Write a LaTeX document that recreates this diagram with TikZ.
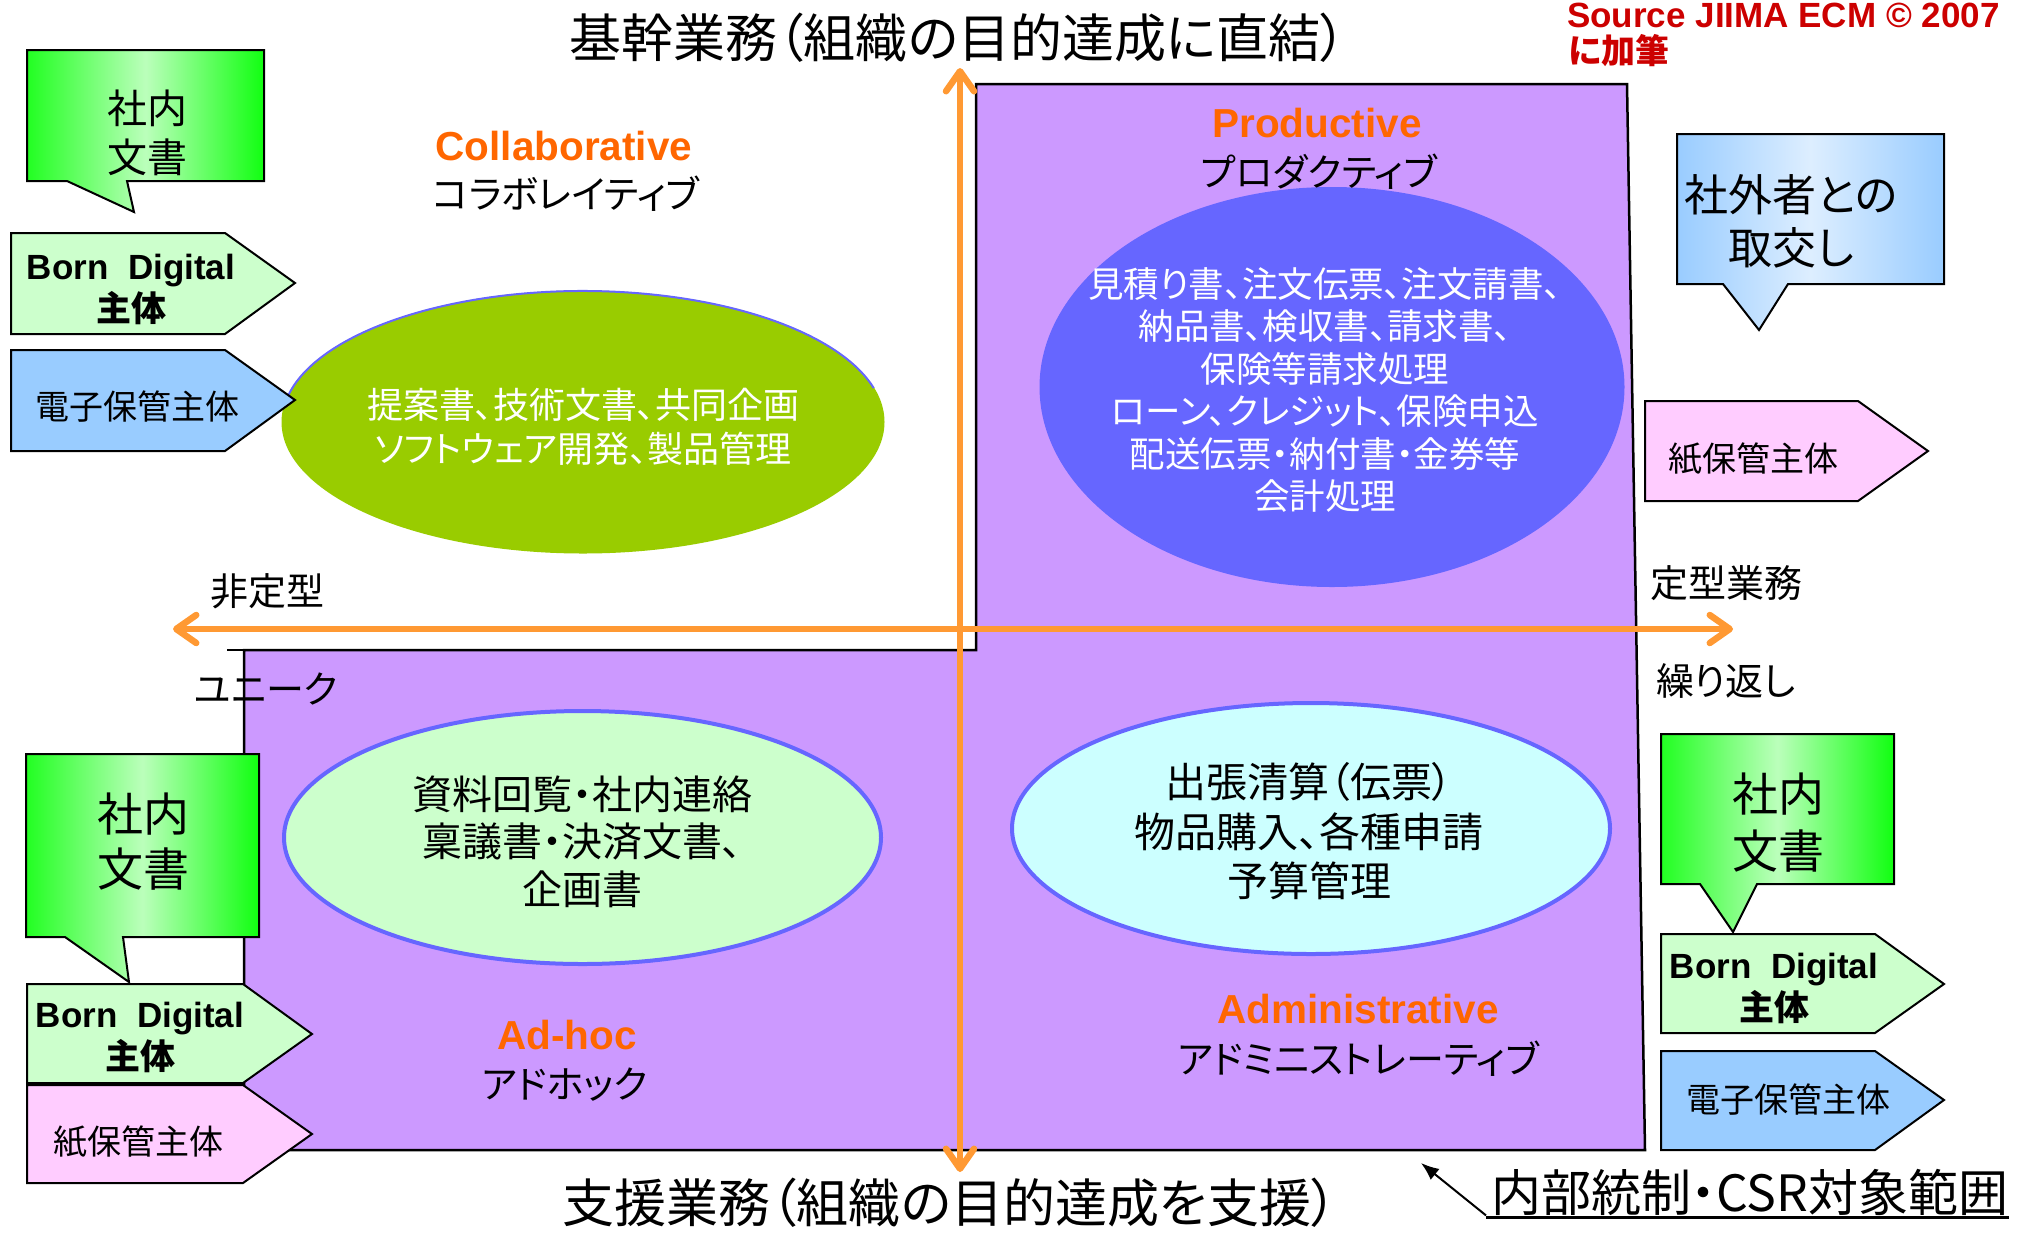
\documentclass[tikz,border=0pt]{standalone}
\usepackage{fontspec}
\setmainfont{Liberation Sans}
\newfontfamily\jp[RawFeature=+palt]{Noto Sans CJK JP}
\usetikzlibrary{arrows.meta,shapes.geometric}
\definecolor{purp}{HTML}{CC99FF}
\definecolor{oran}{HTML}{FF9933}
\definecolor{lab}{HTML}{FF6600}
\definecolor{collab}{HTML}{99CC00}
\definecolor{prod}{HTML}{6666FF}
\definecolor{adhoc}{HTML}{CCFFCC}
\definecolor{admin}{HTML}{CCFFFF}
\definecolor{bdig}{HTML}{CCFFCC}
\definecolor{elec}{HTML}{99CCFF}
\definecolor{paper}{HTML}{FFCCFF}
\definecolor{srcred}{HTML}{CC0000}
\definecolor{cgA}{HTML}{22FF22}
\definecolor{cgB}{HTML}{BBFFBB}
\definecolor{cgC}{HTML}{11FF11}
\definecolor{cbA}{HTML}{99CCFF}
\definecolor{cbB}{HTML}{DDEEFF}
\definecolor{cbC}{HTML}{99CCFF}
\tikzset{
  region/.style={fill=purp, draw=black, line width=2.5pt, line join=miter},
  barb/.tip={Straight Barb[length=20pt,width=28pt,line width=6.5pt,round]},
  axisline/.style={draw=oran, line width=6.5pt},
  jlabel/.style={font=\jp\fontsize{38}{46}\selectfont, inner sep=0},
  olabel/.style={font=\bfseries\fontsize{40.5}{48}\selectfont, text=lab, inner sep=0},
  calloutbox/.style={draw=black, line width=2pt, line join=miter},
  gcallout/.style={calloutbox, left color=cgA, right color=cgC, middle color=cgB},
  bcallout/.style={calloutbox, left color=cbA, right color=cbC, middle color=cbB},
  tagshape/.style={draw=black, line width=2pt, line join=miter},
  tagtext/.style={font=\jp\fontsize{34}{40}\selectfont, inner sep=0},
  bdtext/.style={font=\bfseries\fontsize{35}{42}\selectfont, align=center, inner sep=0},
  elltext/.style={align=center, inner sep=0},
  ellbase/.style={ellipse, inner sep=0, outer sep=0}
}
\begin{document}
\begin{tikzpicture}[x=1pt,y=-1pt]
\useasboundingbox (0,0) rectangle (2044,1240);
\fill[white] (0,0) rectangle (2044,1240);

% purple region
\draw[region] (976,84) -- (1627,84) -- (1645,1150) -- (244,1150) -- (244,650) -- (976,650) -- cycle;
\draw[line width=2.5pt] (227,650) -- (244,650);

% ellipses
\node[ellbase, fill=collab, minimum width=603pt, minimum height=263pt] (collabE) at (583,422) {};
\draw[draw=prod, line width=2pt] (collabE.center) ++(168:301pt and 131pt) arc[start angle=168, end angle=15, x radius=301pt, y radius=131pt];
\node[ellbase, fill=prod, minimum width=585pt, minimum height=400pt] (prodE) at (1332,387) {};
\node[ellbase, fill=adhoc, draw=prod, line width=4pt, minimum width=597pt, minimum height=253pt] (adhocE) at (582.5,837.5) {};
\node[ellbase, fill=admin, draw=prod, line width=4pt, minimum width=598pt, minimum height=251pt] (adminE) at (1311,828.5) {};

% ellipse texts
\node[elltext, text=white, font=\jp\fontsize{36}{44}\selectfont] (collabT) at (583,427) {提案書、技術文書、共同企画\\ソフトウェア開発、製品管理};
\node[elltext, text=white, font=\jp\fontsize{35.5}{42.4}\selectfont] (prodT) at (1325,390) {見積り書、注文伝票、注文請書、\\納品書、検収書、請求書、\\保険等請求処理\\ローン、クレジット、保険申込\\配送伝票・納付書・金券等\\会計処理};
\node[elltext, font=\jp\fontsize{40}{47.5}\selectfont] (adhocT) at (582,841.5) {資料回覧・社内連絡\\稟議書・決済文書、\\企画書};
\node[elltext, font=\jp\fontsize{41}{49.5}\selectfont] (adminT) at (1309,831.5) {出張清算（伝票）\\物品購入、各種申請\\予算管理};

% quadrant labels
\node[olabel] (collabL) at (564,146) {Collaborative};
\node[jlabel] (collabK) at (566,194) {コラボレイティブ};
\node[olabel] (prodL) at (1317,123) {Productive};
\node[jlabel] (prodK) at (1319,172) {プロダクティブ};
\node[olabel] (adhocL) at (567,1035) {Ad-hoc};
\node[jlabel] (adhocK) at (565,1085) {アドホック};
\node[olabel] (adminL) at (1358,1009) {Administrative};
\node[jlabel] (adminK) at (1358,1059) {アドミニストレーティブ};

% axis labels
\node[jlabel] (hiteikei) at (267,591) {非定型};
\node[jlabel] (unique) at (266,689) {ユニーク};
\node[jlabel] (teikei) at (1726,583) {定型業務};
\node[jlabel] (kurikaeshi) at (1726,681) {繰り返し};
\node[font=\jp\fontsize{52}{60}\selectfont, inner sep=0] (topT) at (958,38) {基幹業務（組織の目的達成に直結）};
\node[font=\jp\fontsize{52}{60}\selectfont, inner sep=0] (botT) at (950,1203) {支援業務（組織の目的達成を支援）};

% axes
\coordinate (vtop) at (960,68);
\coordinate (vbot) at (960,1172);
\coordinate (hleft) at (173,629);
\coordinate (hright) at (1733,629);
\draw[axisline, barb-barb] (hleft) -- (hright);
\draw[axisline, barb-barb] (vbot) -- (vtop);

% callouts
\draw[gcallout] (27,50) -- (264,50) -- (264,181) -- (127,181) -- (134,212) -- (67,181) -- (27,181) -- cycle;
\node[elltext, font=\jp\fontsize{40}{49}\selectfont] (c1T) at (147,132.5) {社内\\文書};
\draw[gcallout] (26,754) -- (259,754) -- (259,937) -- (123,937) -- (129,982) -- (65,937) -- (26,937) -- cycle;
\node[elltext, font=\jp\fontsize{46}{55}\selectfont] (c2T) at (143,841.5) {社内\\文書};
\draw[gcallout] (1661,734) -- (1894,734) -- (1894,884) -- (1757,884) -- (1733,932) -- (1700,884) -- (1661,884) -- cycle;
\node[elltext, font=\jp\fontsize{46}{57}\selectfont] (c3T) at (1778,822.5) {社内\\文書};
\draw[bcallout] (1677,134) -- (1944,134) -- (1944,284) -- (1788,284) -- (1759,330) -- (1723,284) -- (1677,284) -- cycle;
\node[elltext, font=\jp\fontsize{44}{53}\selectfont] (c4T) at (1791,221.5) {社外者との\\取交し};

% tags (home plates)
\draw[tagshape, fill=bdig] (11,233) -- (225,233) -- (295,283) -- (225,334) -- (11,334) -- cycle;
\node[bdtext] (bd1) at (131,289) {Born\ \ Digital\\{\jp 主体}};
\draw[tagshape, fill=elec] (11,350) -- (225,350) -- (295,400) -- (225,451) -- (11,451) -- cycle;
\node[tagtext] (el1) at (137,407) {電子保管主体};
\draw[tagshape, fill=paper] (1645,401) -- (1858,401) -- (1928,451) -- (1858,501) -- (1645,501) -- cycle;
\node[tagtext] (pa1) at (1753,459) {紙保管主体};
\draw[tagshape, fill=bdig] (27,984) -- (243,984) -- (312,1034) -- (243,1083) -- (27,1083) -- cycle;
\node[bdtext] (bd2) at (140,1037.5) {Born\ \ Digital\\{\jp 主体}};
\draw[tagshape, fill=paper] (27,1085) -- (243,1085) -- (312,1134) -- (243,1183) -- (27,1183) -- cycle;
\node[tagtext] (pa2) at (138,1142) {紙保管主体};
\draw[tagshape, fill=bdig] (1661,934) -- (1875,934) -- (1944,984) -- (1875,1033) -- (1661,1033) -- cycle;
\node[bdtext] (bd3) at (1774,988) {Born\ \ Digital\\{\jp 主体}};
\draw[tagshape, fill=elec] (1661,1051) -- (1875,1051) -- (1944,1100) -- (1875,1150) -- (1661,1150) -- cycle;
\node[tagtext] (el2) at (1788,1100) {電子保管主体};

% source
\node[anchor=base west, font=\bfseries\fontsize{35}{40}\selectfont, text=srcred, inner sep=0] (src1) at (1567,27) {Source JIIMA ECM © 2007};
\node[anchor=west, font=\jp\bfseries\fontsize{34}{40}\selectfont, text=srcred, inner sep=0] (src2) at (1568,51) {に加筆};

% CSR scope label
\node[anchor=base west, inner sep=0, font=\jp\fontsize{50}{56}\selectfont] (csr) at (1491,1211) {内部統制・CSR対象範囲};
\draw[line width=2.5pt] ([xshift=-5pt,yshift=-2pt]csr.south west) -- ([yshift=-2pt]csr.south east);
\coordinate (csrtip) at (1421,1163);
\draw[line width=2pt, -{Latex[length=18pt,width=14pt]}] ([xshift=-5pt]csr.south west) -- (csrtip);
\end{tikzpicture}
\end{document}
